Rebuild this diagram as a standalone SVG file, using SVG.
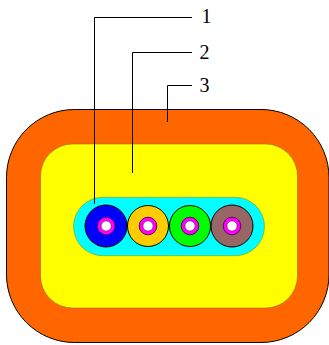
<svg xmlns="http://www.w3.org/2000/svg" width="329" height="345" viewBox="0 0 329 345">
<style>
.o{fill:#ff6600;stroke:#000;stroke-width:1}
.y{fill:#ffff00;stroke:#806000;stroke-width:.5}
.c{fill:#00ffff;stroke:#808000;stroke-width:.5}
.f{stroke:#000;stroke-width:1}
.m{fill:#ff00ff;stroke:#600060;stroke-width:1}
.w{fill:#fff;stroke:#333;stroke-width:.5}
.l{fill:none;stroke:#000;stroke-width:1}
text{font-family:"Liberation Serif","Times New Roman",serif;font-size:20px;fill:#000}
</style>
<rect width="329" height="345" fill="#fff"/>
<g id="jacket"><rect class="o" x="6.500" y="109.500" width="322.500" height="233" rx="68" ry="68"/></g>
<g id="filler"><rect class="y" x="40.500" y="144" width="257" height="164" rx="32" ry="32"/></g>
<g id="ribbon"><rect class="c" x="73.500" y="197.300" width="191" height="58.400" rx="29.200" ry="29.200"/></g>
<g id="fiber1"><circle class="f" cx="106" cy="226" r="21" fill="#0000ff"/><circle class="m" cx="106.200" cy="226" r="8.800"/><circle class="w" cx="106.200" cy="226" r="5"/></g>
<g id="fiber2"><circle class="f" cx="148" cy="226" r="20.500" fill="#ffcc00"/><circle class="m" cx="148" cy="226" r="8.800"/><circle class="w" cx="148" cy="226" r="5"/></g>
<g id="fiber3"><circle class="f" cx="190" cy="226" r="20.500" fill="#00ff00"/><circle class="m" cx="190" cy="226" r="8.800"/><circle class="w" cx="190" cy="226" r="5"/></g>
<g id="fiber4"><circle class="f" cx="232" cy="226" r="21" fill="#996666"/><circle class="m" cx="232" cy="226" r="8.800"/><circle class="w" cx="232" cy="226" r="5"/></g>
<g id="connectors">
<path class="l" d="M192 17.500H94.500V204"/>
<path class="l" d="M192 52.500H132.500V173"/>
<path class="l" d="M192 85.500H167.500V122"/>
</g>
<g id="label1"><text x="201.500" y="23">1</text></g>
<g id="label2"><text x="199.500" y="59">2</text></g>
<g id="label3"><text x="199.500" y="92">3</text></g>
</svg>
